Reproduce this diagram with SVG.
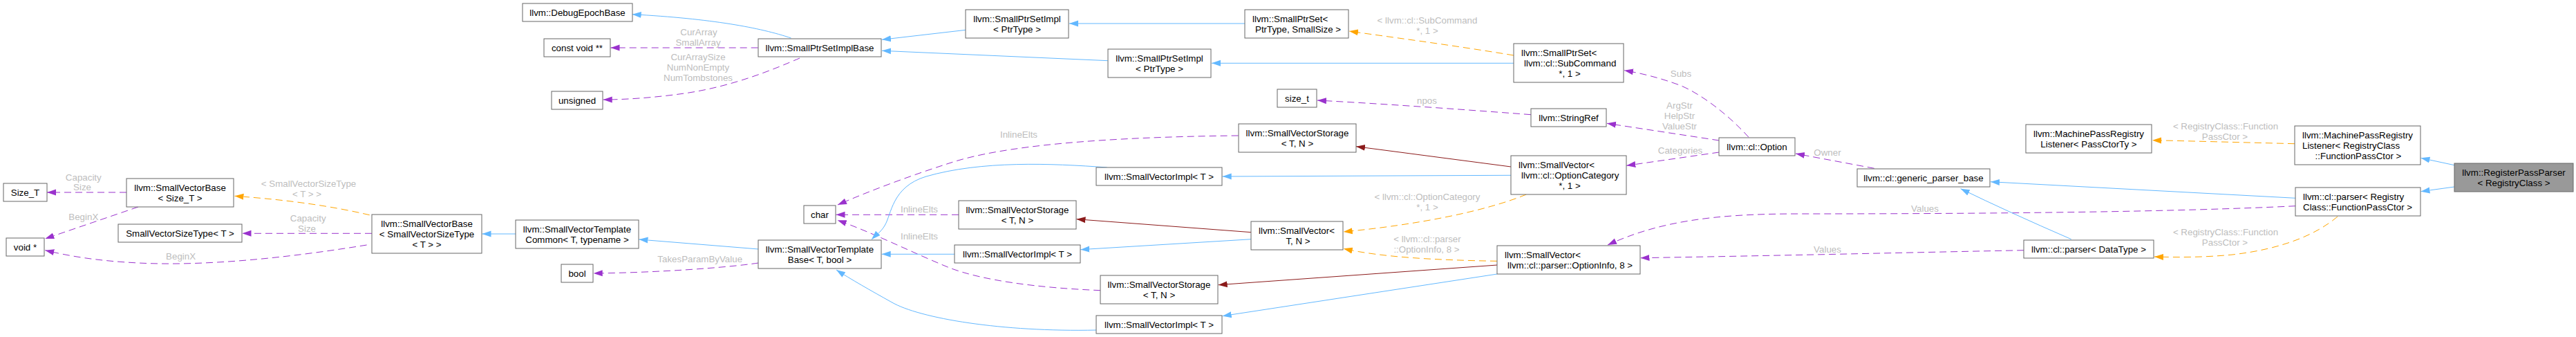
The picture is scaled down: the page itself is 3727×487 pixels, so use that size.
<svg xmlns="http://www.w3.org/2000/svg" width="3727" height="487" viewBox="0 0 3727 487">
<defs>
<style>
.n rect{fill:#ffffff;stroke:#666666;stroke-width:1}
.n.g rect{fill:#999999}
.n text{font-family:"Liberation Sans",Arial,Helvetica,sans-serif;font-size:13.33px;fill:#000000}
.m{text-anchor:middle}
.s{text-anchor:start}
.lb{font-family:"Liberation Sans",Arial,Helvetica,sans-serif;font-size:13.33px;fill:#bdbdbd;text-anchor:middle}
.e{fill:none;stroke-width:1}
.b{stroke:#63b8ff;marker-end:url(#ab)}
.p{stroke:#9a32cd;stroke-dasharray:10,6;marker-end:url(#ap)}
.o{stroke:#ffa500;stroke-dasharray:10,6;marker-end:url(#ao)}
.r{stroke:#8b1a1a;marker-end:url(#ar)}
</style>
<marker id="ab" markerUnits="userSpaceOnUse" markerWidth="14" markerHeight="10" refX="13" refY="5" orient="auto"><path d="M0,0.5 L13,5 L0,9.5 z" fill="#63b8ff"/></marker>
<marker id="ap" markerUnits="userSpaceOnUse" markerWidth="14" markerHeight="10" refX="13" refY="5" orient="auto"><path d="M0,0.5 L13,5 L0,9.5 z" fill="#9a32cd"/></marker>
<marker id="ao" markerUnits="userSpaceOnUse" markerWidth="14" markerHeight="10" refX="13" refY="5" orient="auto"><path d="M0,0.5 L13,5 L0,9.5 z" fill="#ffa500"/></marker>
<marker id="ar" markerUnits="userSpaceOnUse" markerWidth="14" markerHeight="10" refX="13" refY="5" orient="auto"><path d="M0,0.5 L13,5 L0,9.5 z" fill="#8b1a1a"/></marker>
</defs>
<g id="connectors">
<path class="e b" d="M3551,238.7 L3502.5,228.3"/>
<path class="e b" d="M3551,270 L3502.5,276.7"/>
<path class="e o" d="M3320,207.7 C3250,206 3180,204 3114,202.7"/>
<path class="e o" d="M3382,313 C3350,340 3300,360 3230,368 C3190,372 3150,372 3117,371"/>
<path class="e b" d="M3321,286.3 L2880,262.7"/>
<path class="e p" d="M3321,297.7 C3150,306 2900,309 2600,309 C2480,309 2400,320 2326,354"/>
<path class="e p" d="M2928,361.7 C2800,364 2600,369 2373.5,372.7"/>
<path class="e b" d="M2996.7,345.7 Q2905,306 2836.7,272.7"/>
<path class="e p" d="M2711.7,243.3 L2598,222"/>
<path class="e p" d="M2530,198.3 C2500,165 2460,135 2430,123 C2400,112 2375,106 2350,101.7"/>
<path class="e p" d="M2487.3,203 L2325,178.3"/>
<path class="e p" d="M2487.3,220 L2353.3,239.3"/>
<path class="e p" d="M2215,165.7 C2100,157 2000,150 1906,145"/>
<path class="e o" d="M2190,80 C2100,65 2000,52 1952,45"/>
<path class="e b" d="M2190,91.3 L1753,91.3"/>
<path class="e b" d="M1801,34 L1547,34"/>
<path class="e b" d="M1397.3,43.3 L1276,57.3"/>
<path class="e b" d="M1602.7,87.7 L1276,73.3"/>
<path class="e b" d="M1144.5,55 C1100,40 1030,27 914.7,20.7"/>
<path class="e p" d="M1096.7,69 L883.5,69"/>
<path class="e p" d="M1157,84 C1120,100 1060,125 990,135 C940,142 900,144 872.7,144"/>
<path class="e b" d="M1097.3,360 L924.5,346"/>
<path class="e p" d="M1097.3,380 C1050,387 950,394 858.7,395"/>
<path class="e b" d="M746,338 L697.5,338"/>
<path class="e o" d="M534.7,310.7 C480,298 420,289 339.5,283.3"/>
<path class="e p" d="M538,337.3 L350.5,337.3"/>
<path class="e p" d="M530.6,354 C420,372 300,385 200,380 C140,377 100,370 65.3,361.7"/>
<path class="e p" d="M183,278 L68,278"/>
<path class="e p" d="M200,299 L65.3,345"/>
<path class="e p" d="M1791.7,196 C1600,198 1450,210 1373,236 C1320,253 1260,275 1212,296"/>
<path class="e p" d="M1387,310.3 L1209.5,310.3"/>
<path class="e p" d="M1592.3,419.7 C1500,416 1420,405 1373,386.7 C1320,365 1260,335 1211.7,318.3"/>
<path class="e b" d="M1601.7,242 C1520,236 1420,232 1340,255 C1290,270 1290,310 1280,326 C1275,335 1265,342 1261,346"/>
<path class="e b" d="M1381,367.3 L1275.7,367.3"/>
<path class="e b" d="M1586.3,477 C1450,480 1330,460 1290,436.7 C1260,420 1230,403 1210,390"/>
<path class="e r" d="M1810.3,335.7 L1557.5,316.7"/>
<path class="e b" d="M1810.3,345.7 L1563.3,360.7"/>
<path class="e r" d="M2186,241 L1962,211.7"/>
<path class="e b" d="M2186,253.3 L1768.7,255"/>
<path class="e o" d="M2208.3,281 C2150,305 2050,325 1943.7,335"/>
<path class="e o" d="M2166,377.3 C2080,376 2000,372 1943.7,359.3"/>
<path class="e r" d="M2166,383 L1762.7,411.7"/>
<path class="e b" d="M2166,396 L1768.7,456.7"/>
<text class="lb" x="3220" y="187.2">&lt; RegistryClass::Function</text>
<text class="lb" x="3219" y="202.2">PassCtor &gt;</text>
<text class="lb" x="3220" y="340.2">&lt; RegistryClass::Function</text>
<text class="lb" x="3219" y="355.2">PassCtor &gt;</text>
<text class="lb" x="2785" y="306.2">Values</text>
<text class="lb" x="2644" y="364.8">Values</text>
<text class="lb" x="2644" y="225.2">Owner</text>
<text class="lb" x="2432" y="111.2">Subs</text>
<text class="lb" x="2430" y="157.2">ArgStr</text>
<text class="lb" x="2430" y="172.2">HelpStr</text>
<text class="lb" x="2430" y="187.2">ValueStr</text>
<text class="lb" x="2431" y="221.8">Categories</text>
<text class="lb" x="2064.5" y="149.5">npos</text>
<text class="lb" x="2065" y="34.2">&lt; llvm::cl::SubCommand</text>
<text class="lb" x="2065" y="49.2">*, 1 &gt;</text>
<text class="lb" x="1011" y="51.2">CurArray</text>
<text class="lb" x="1010" y="66.2">SmallArray</text>
<text class="lb" x="1010" y="86.8">CurArraySize</text>
<text class="lb" x="1010" y="102.2">NumNonEmpty</text>
<text class="lb" x="1010" y="117.2">NumTombstones</text>
<text class="lb" x="1012.7" y="379.2">TakesParamByValue</text>
<text class="lb" x="446.5" y="270.2">&lt; SmallVectorSizeType</text>
<text class="lb" x="444" y="285.2">&lt; T &gt; &gt;</text>
<text class="lb" x="445.7" y="320.2">Capacity</text>
<text class="lb" x="444" y="335.2">Size</text>
<text class="lb" x="261.6" y="375.2">BeginX</text>
<text class="lb" x="120.8" y="260.5">Capacity</text>
<text class="lb" x="119" y="275.2">Size</text>
<text class="lb" x="120.8" y="317.8">BeginX</text>
<text class="lb" x="1474" y="198.8">InlineElts</text>
<text class="lb" x="1330" y="307.2">InlineElts</text>
<text class="lb" x="1330" y="345.8">InlineElts</text>
<text class="lb" x="2065" y="288.8">&lt; llvm::cl::OptionCategory</text>
<text class="lb" x="2065" y="303.5">*, 1 &gt;</text>
<text class="lb" x="2065" y="350.2">&lt; llvm::cl::parser</text>
<text class="lb" x="2064" y="365.2">::OptionInfo, 8 &gt;</text>
</g>
<g id="RegisterPassParser" class="n g"><rect x="3551" y="236" width="172" height="41"/><text class="m" x="3637" y="253.7">llvm::RegisterPassParser</text><text class="m" x="3637" y="268.7">&lt; RegistryClass &gt;</text></g>
<g id="MPRListenerRC" class="n"><rect x="3320" y="182" width="182" height="56"/><text class="s" x="3331" y="199.7">llvm::MachinePassRegistry</text><text class="s" x="3331" y="214.7">Listener&lt; RegistryClass</text><text class="m" x="3412" y="229.7">::FunctionPassCtor &gt;</text></g>
<g id="ParserRC" class="n"><rect x="3321" y="271" width="181" height="41"/><text class="s" x="3332" y="288.7">llvm::cl::parser&lt; Registry</text><text class="s" x="3332" y="303.7">Class::FunctionPassCtor &gt;</text></g>
<g id="MPRListenerPC" class="n"><rect x="2931" y="180" width="182" height="41"/><text class="m" x="3022" y="197.7">llvm::MachinePassRegistry</text><text class="m" x="3022" y="212.7">Listener&lt; PassCtorTy &gt;</text></g>
<g id="ParserDT" class="n"><rect x="2928" y="347" width="188" height="26"/><text class="m" x="3022" y="364.7">llvm::cl::parser&lt; DataType &gt;</text></g>
<g id="GenericParserBase" class="n"><rect x="2687" y="244" width="192" height="26"/><text class="m" x="2783" y="261.7">llvm::cl::generic_parser_base</text></g>
<g id="Option" class="n"><rect x="2487" y="199" width="110" height="26"/><text class="m" x="2542" y="216.7">llvm::cl::Option</text></g>
<g id="SVOptionInfo" class="n"><rect x="2166" y="355" width="207" height="41"/><text class="s" x="2177" y="372.7">llvm::SmallVector&lt;</text><text class="s" x="2181" y="387.7">llvm::cl::parser::OptionInfo, 8 &gt;</text></g>
<g id="SVOptionCategory" class="n"><rect x="2186" y="225" width="167" height="56"/><text class="s" x="2197" y="242.7">llvm::SmallVector&lt;</text><text class="s" x="2201" y="257.7">llvm::cl::OptionCategory</text><text class="m" x="2271" y="272.7">*, 1 &gt;</text></g>
<g id="StringRef" class="n"><rect x="2215" y="157" width="109" height="26"/><text class="m" x="2269.5" y="174.7">llvm::StringRef</text></g>
<g id="SPSSubCommand" class="n"><rect x="2190" y="63" width="159" height="56"/><text class="s" x="2201" y="80.7">llvm::SmallPtrSet&lt;</text><text class="s" x="2205" y="95.7">llvm::cl::SubCommand</text><text class="m" x="2271" y="110.7">*, 1 &gt;</text></g>
<g id="SmallPtrSet" class="n"><rect x="1801" y="14" width="150" height="41"/><text class="s" x="1812" y="31.5">llvm::SmallPtrSet&lt;</text><text class="s" x="1816" y="46.5">PtrType, SmallSize &gt;</text></g>
<g id="size_t" class="n"><rect x="1848" y="129" width="57" height="26"/><text class="m" x="1876.5" y="146.7">size_t</text></g>
<g id="SVStorageTop" class="n"><rect x="1792" y="179" width="170" height="41"/><text class="m" x="1877" y="196.7">llvm::SmallVectorStorage</text><text class="m" x="1877" y="211.7">&lt; T, N &gt;</text></g>
<g id="SmallVectorTN" class="n"><rect x="1810" y="320" width="133" height="41"/><text class="s" x="1821" y="337.7">llvm::SmallVector&lt;</text><text class="m" x="1878" y="352.7">T, N &gt;</text></g>
<g id="SVImplTop" class="n"><rect x="1586" y="242" width="182" height="26"/><text class="m" x="1677" y="259.7">llvm::SmallVectorImpl&lt; T &gt;</text></g>
<g id="SVStorageBottom" class="n"><rect x="1592" y="398" width="170" height="41"/><text class="m" x="1677" y="415.7">llvm::SmallVectorStorage</text><text class="m" x="1677" y="430.7">&lt; T, N &gt;</text></g>
<g id="SVImplBottom" class="n"><rect x="1586" y="456" width="182" height="26"/><text class="m" x="1677" y="473.7">llvm::SmallVectorImpl&lt; T &gt;</text></g>
<g id="SPSImpl2" class="n"><rect x="1603" y="71" width="149" height="41"/><text class="m" x="1677.5" y="88.7">llvm::SmallPtrSetImpl</text><text class="m" x="1677.5" y="103.7">&lt; PtrType &gt;</text></g>
<g id="SPSImpl1" class="n"><rect x="1397" y="14" width="149" height="41"/><text class="m" x="1471.5" y="31.5">llvm::SmallPtrSetImpl</text><text class="m" x="1471.5" y="46.5">&lt; PtrType &gt;</text></g>
<g id="SVStorageMid" class="n"><rect x="1387" y="290" width="170" height="41"/><text class="m" x="1472" y="307.5">llvm::SmallVectorStorage</text><text class="m" x="1472" y="322.5">&lt; T, N &gt;</text></g>
<g id="SVImplMid" class="n"><rect x="1381" y="354" width="182" height="26"/><text class="m" x="1472" y="371.7">llvm::SmallVectorImpl&lt; T &gt;</text></g>
<g id="SPSImplBase" class="n"><rect x="1097" y="56" width="178" height="26"/><text class="m" x="1186" y="73.7">llvm::SmallPtrSetImplBase</text></g>
<g id="char" class="n"><rect x="1163" y="297" width="46" height="26"/><text class="m" x="1186" y="314.7">char</text></g>
<g id="SVTemplateBase" class="n"><rect x="1097" y="347" width="178" height="41"/><text class="m" x="1186" y="364.5">llvm::SmallVectorTemplate</text><text class="m" x="1186" y="379.5">Base&lt; T, bool &gt;</text></g>
<g id="DebugEpochBase" class="n"><rect x="756" y="5" width="159" height="26"/><text class="m" x="835.5" y="22.7">llvm::DebugEpochBase</text></g>
<g id="constvoid" class="n"><rect x="787" y="56" width="96" height="26"/><text class="m" x="835" y="73.7">const void **</text></g>
<g id="unsigned" class="n"><rect x="798" y="132" width="74" height="26"/><text class="m" x="835" y="149.7">unsigned</text></g>
<g id="SVTemplateCommon" class="n"><rect x="746" y="318" width="178" height="41"/><text class="m" x="835" y="335.5">llvm::SmallVectorTemplate</text><text class="m" x="835" y="350.5">Common&lt; T, typename &gt;</text></g>
<g id="bool" class="n"><rect x="812" y="382" width="46" height="26"/><text class="m" x="835" y="399.7">bool</text></g>
<g id="SVBaseSVST" class="n"><rect x="538" y="310" width="159" height="56"/><text class="m" x="617.5" y="327.7">llvm::SmallVectorBase</text><text class="m" x="617.5" y="342.7">&lt; SmallVectorSizeType</text><text class="m" x="617.5" y="357.7">&lt; T &gt; &gt;</text></g>
<g id="SVBaseSizeT" class="n"><rect x="183" y="258" width="155" height="41"/><text class="m" x="260.5" y="275.5">llvm::SmallVectorBase</text><text class="m" x="260.5" y="290.5">&lt; Size_T &gt;</text></g>
<g id="SVSizeType" class="n"><rect x="171" y="324" width="179" height="26"/><text class="m" x="260.5" y="341.7">SmallVectorSizeType&lt; T &gt;</text></g>
<g id="Size_T" class="n"><rect x="5" y="265" width="63" height="26"/><text class="m" x="36.5" y="282.7">Size_T</text></g>
<g id="voidptr" class="n"><rect x="9" y="344" width="55" height="26"/><text class="m" x="36.5" y="361.7">void *</text></g>
</svg>
